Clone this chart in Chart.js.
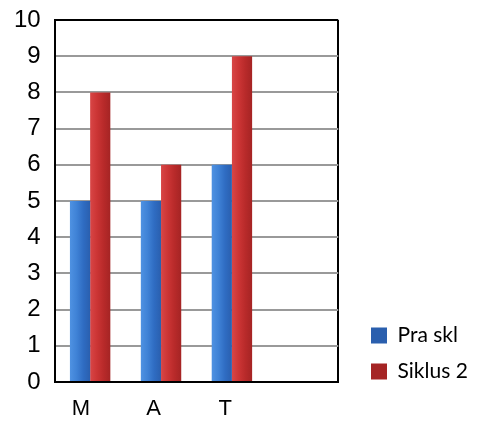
<!DOCTYPE html>
<html>
<head>
  <meta charset="UTF-8" />
  <title>Pra skl / Siklus 2</title>
  <script src="https://cdn.jsdelivr.net/npm/chart.js"></script>
  <style>
    html, body { margin: 0; padding: 0; background: #ffffff; }
    #wrap { width: 478px; height: 422px; }
  </style>
</head>
<body>
  <div id="wrap"><canvas id="chart"></canvas></div>
  <script>
    const categories = ['M', 'A', 'T', ''];
    const praSkl = [5, 5, 6, null];
    const siklus2 = [8, 6, 9, null];
    const yTicks = { min: 0, max: 10, step: 1 };

    const CAT_PCT = 0.57;

    // horizontal shading, like the rounded 3D columns of the original
    function shade(stops, solid) {
      return ctx => {
        const chart = ctx.chart;
        const s = chart.scales && chart.scales.x;
        if (ctx.type !== 'data' || !chart.chartArea || !s) return solid;
        const slot = s.width / categories.length * CAT_PCT / 2;
        const left = s.getPixelForValue(ctx.dataIndex) - slot + ctx.datasetIndex * slot;
        const g = chart.ctx.createLinearGradient(left, 0, left + slot, 0);
        stops.forEach((c, i) => g.addColorStop(i / (stops.length - 1), c));
        return g;
      };
    }

    // moves the legend down/right next to the plot like in the picture
    const legendNudge = {
      id: 'legendNudge',
      afterLayout(chart) {
        const lg = chart.legend;
        const dx = 356 - lg.left;
        const dy = 310 - lg.top;
        lg.left += dx; lg.right += dx;
        lg.top += dy; lg.bottom += dy;
      }
    };

    new Chart(document.getElementById('chart'), {
      type: 'bar',
      data: {
        labels: categories,
        datasets: [
          {
            label: 'Pra skl',
            data: praSkl,
            backgroundColor: shade(['#4f92e2', '#3f82d6', '#2f6cc2', '#2a5fae'], '#3a78cc')
          },
          {
            label: 'Siklus 2',
            data: siklus2,
            backgroundColor: shade(['#d84646', '#cc3535', '#b82a2a', '#a52424'], '#c43232')
          }
        ]
      },
      options: {
        responsive: true,
        maintainAspectRatio: false,
        animation: false,
        datasets: { bar: { barPercentage: 1, categoryPercentage: CAT_PCT } },
        layout: { padding: { left: 0, right: 27, top: 20, bottom: 0 } },
        scales: {
          x: {
            afterFit(scale) { scale.height = 40; },
            grid: {
              drawTicks: false,
              lineWidth: 2,
              color: ctx => ctx.tick ? 'rgba(0,0,0,0)' : '#000000'
            },
            border: { color: '#000000', width: 2 },
            ticks: {
              color: '#000000',
              padding: 14,
              align: 'end',
              font: { family: 'Arial, "Liberation Sans"', size: 22 }
            }
          },
          y: {
            min: yTicks.min,
            max: yTicks.max,
            afterFit(scale) { scale.paddingTop = 0; scale.paddingBottom = 0; },
            grid: {
              drawTicks: false,
              lineWidth: 2,
              color: ctx => ctx.tick && ctx.tick.value === yTicks.max ? '#000000' : '#999999'
            },
            border: { color: '#000000', width: 2 },
            ticks: {
              stepSize: yTicks.step,
              color: '#000000',
              padding: 14,
              font: { family: 'Arial, "Liberation Sans"', size: 24 }
            }
          }
        },
        plugins: {
          legend: {
            position: 'right',
            align: 'start',
            labels: {
              boxWidth: 16,
              boxHeight: 16,
              padding: 15,
              color: '#000000',
              font: { family: 'Lato, "Open Sans"', size: 21 }
            }
          },
          tooltip: { enabled: false }
        }
      },
      plugins: [legendNudge]
    });
  </script>
</body>
</html>
